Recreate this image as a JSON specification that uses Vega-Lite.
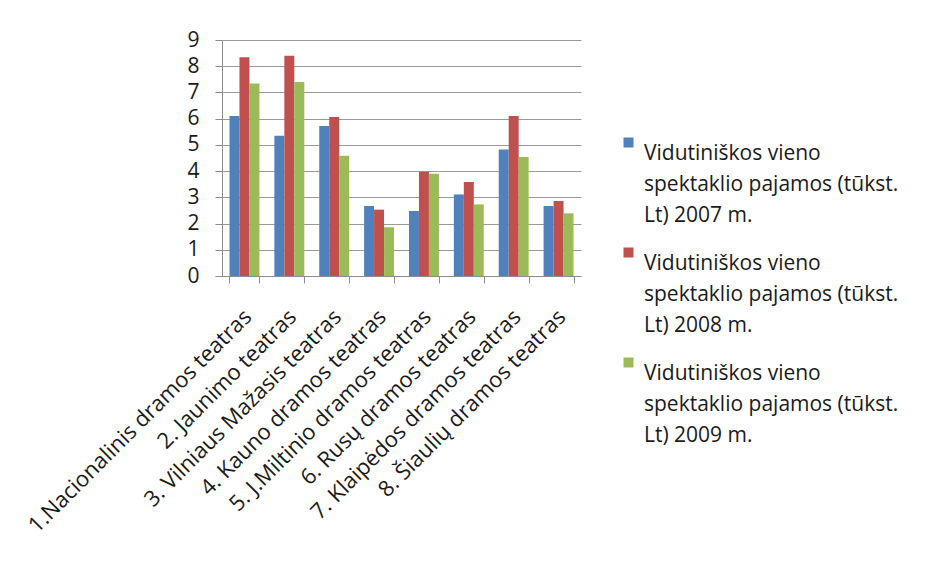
{
  "$schema": "https://vega.github.io/schema/vega-lite/v6.json",
  "autosize": {"type": "none"},
  "width": 359,
  "height": 236,
  "padding": {"left": 222, "top": 40, "right": 351, "bottom": 290},
  "background": "white",
  "config": {
    "font": "Open Sans",
    "view": {"stroke": null},
    "axis": {"labelFont": "Open Sans", "labelColor": "#1a1a1a", "domainColor": "#8c8c8c", "tickColor": "#8c8c8c", "gridColor": "#9a9a9a"}
  },
  "data": {
    "values": [
      {"teatras": "1.Nacionalinis dramos teatras", "serija": "Vidutiniškos vieno spektaklio pajamos (tūkst. Lt) 2007 m.", "pajamos": 6.10},
      {"teatras": "1.Nacionalinis dramos teatras", "serija": "Vidutiniškos vieno spektaklio pajamos (tūkst. Lt) 2008 m.", "pajamos": 8.34},
      {"teatras": "1.Nacionalinis dramos teatras", "serija": "Vidutiniškos vieno spektaklio pajamos (tūkst. Lt) 2009 m.", "pajamos": 7.34},
      {"teatras": "2. Jaunimo teatras", "serija": "Vidutiniškos vieno spektaklio pajamos (tūkst. Lt) 2007 m.", "pajamos": 5.35},
      {"teatras": "2. Jaunimo teatras", "serija": "Vidutiniškos vieno spektaklio pajamos (tūkst. Lt) 2008 m.", "pajamos": 8.40},
      {"teatras": "2. Jaunimo teatras", "serija": "Vidutiniškos vieno spektaklio pajamos (tūkst. Lt) 2009 m.", "pajamos": 7.40},
      {"teatras": "3. Vilniaus Mažasis teatras", "serija": "Vidutiniškos vieno spektaklio pajamos (tūkst. Lt) 2007 m.", "pajamos": 5.72},
      {"teatras": "3. Vilniaus Mažasis teatras", "serija": "Vidutiniškos vieno spektaklio pajamos (tūkst. Lt) 2008 m.", "pajamos": 6.06},
      {"teatras": "3. Vilniaus Mažasis teatras", "serija": "Vidutiniškos vieno spektaklio pajamos (tūkst. Lt) 2009 m.", "pajamos": 4.59},
      {"teatras": "4. Kauno dramos teatras", "serija": "Vidutiniškos vieno spektaklio pajamos (tūkst. Lt) 2007 m.", "pajamos": 2.67},
      {"teatras": "4. Kauno dramos teatras", "serija": "Vidutiniškos vieno spektaklio pajamos (tūkst. Lt) 2008 m.", "pajamos": 2.53},
      {"teatras": "4. Kauno dramos teatras", "serija": "Vidutiniškos vieno spektaklio pajamos (tūkst. Lt) 2009 m.", "pajamos": 1.86},
      {"teatras": "5. J.Miltinio dramos teatras", "serija": "Vidutiniškos vieno spektaklio pajamos (tūkst. Lt) 2007 m.", "pajamos": 2.48},
      {"teatras": "5. J.Miltinio dramos teatras", "serija": "Vidutiniškos vieno spektaklio pajamos (tūkst. Lt) 2008 m.", "pajamos": 3.98},
      {"teatras": "5. J.Miltinio dramos teatras", "serija": "Vidutiniškos vieno spektaklio pajamos (tūkst. Lt) 2009 m.", "pajamos": 3.90},
      {"teatras": "6. Rusų dramos teatras", "serija": "Vidutiniškos vieno spektaklio pajamos (tūkst. Lt) 2007 m.", "pajamos": 3.11},
      {"teatras": "6. Rusų dramos teatras", "serija": "Vidutiniškos vieno spektaklio pajamos (tūkst. Lt) 2008 m.", "pajamos": 3.58},
      {"teatras": "6. Rusų dramos teatras", "serija": "Vidutiniškos vieno spektaklio pajamos (tūkst. Lt) 2009 m.", "pajamos": 2.73},
      {"teatras": "7. Klaipėdos dramos teatras", "serija": "Vidutiniškos vieno spektaklio pajamos (tūkst. Lt) 2007 m.", "pajamos": 4.82},
      {"teatras": "7. Klaipėdos dramos teatras", "serija": "Vidutiniškos vieno spektaklio pajamos (tūkst. Lt) 2008 m.", "pajamos": 6.10},
      {"teatras": "7. Klaipėdos dramos teatras", "serija": "Vidutiniškos vieno spektaklio pajamos (tūkst. Lt) 2009 m.", "pajamos": 4.54},
      {"teatras": "8. Šiaulių dramos teatras", "serija": "Vidutiniškos vieno spektaklio pajamos (tūkst. Lt) 2007 m.", "pajamos": 2.67},
      {"teatras": "8. Šiaulių dramos teatras", "serija": "Vidutiniškos vieno spektaklio pajamos (tūkst. Lt) 2008 m.", "pajamos": 2.86},
      {"teatras": "8. Šiaulių dramos teatras", "serija": "Vidutiniškos vieno spektaklio pajamos (tūkst. Lt) 2009 m.", "pajamos": 2.39}
    ]
  },
  "mark": {"type": "bar"},
  "encoding": {
    "x": {
      "field": "teatras",
      "type": "nominal",
      "sort": null,
      "title": null,
      "scale": {"paddingInner": 0.333, "paddingOuter": 0.167},
      "axis": {
        "labelAngle": -45,
        "labelAlign": "right",
        "labelBaseline": "middle",
        "labelFontSize": 22,
        "labelPadding": 30,
        "labelOffset": 3,
        "labelLimit": 400,
        "tickBand": "extent",
        "tickSize": 7,
        "grid": false
      }
    },
    "xOffset": {"field": "serija", "type": "nominal", "scale": {"paddingInner": 0}},
    "y": {
      "field": "pajamos",
      "type": "quantitative",
      "title": null,
      "scale": {"domain": [0, 9], "nice": false},
      "axis": {"values": [0, 1, 2, 3, 4, 5, 6, 7, 8, 9], "labelFontSize": 21, "labelPadding": 16, "tickSize": 7, "grid": true}
    },
    "color": {
      "field": "serija",
      "type": "nominal",
      "title": null,
      "scale": {"range": ["#4F81BD", "#C0504D", "#9BBB59"]},
      "legend": {
        "orient": "none",
        "legendX": 396,
        "legendY": 92,
        "symbolType": "square",
        "symbolSize": 100,
        "symbolStrokeWidth": 0,
        "labelFontSize": 21,
        "labelFont": "Open Sans",
        "labelColor": "#1a1a1a",
        "labelLimit": 400,
        "labelBaseline": "top",
        "rowPadding": 16,
        "labelExpr": "['Vidutiniškos vieno', 'spektaklio pajamos (tūkst.', replace(datum.label, 'Vidutiniškos vieno spektaklio pajamos (tūkst. ', '')]",
        "labelOffset": 5,
        "encode": {"labels": {"update": {"lineHeight": {"value": 31}}}}
      }
    }
  }
}
